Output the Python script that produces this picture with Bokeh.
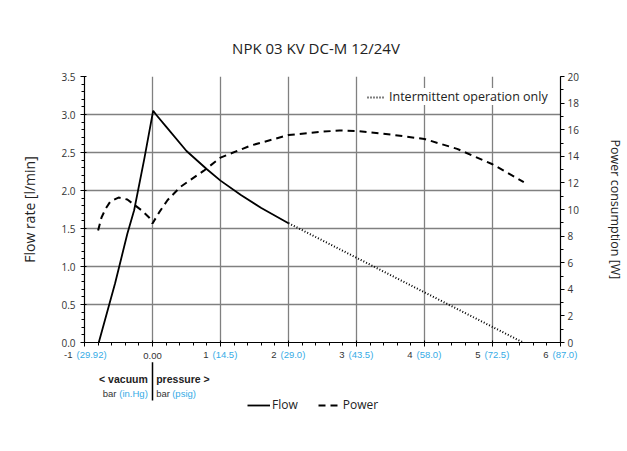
import numpy as np
from bokeh.plotting import figure
from bokeh.layouts import column, row
from bokeh.models import (Range1d, LinearAxis, FixedTicker, Legend,
                          LegendItem)
from bokeh.core.properties import value
from bokeh.embed import file_html
from bokeh.resources import INLINE

# ---------------- data ----------------
title_text = "NPK 03 KV DC-M 12/24V"
y_left_label = "Flow rate [l/min]"
y_right_label = "Power consumption [W]"

# Flow rate (l/min), continuous operation
flow_x = [-0.79, -0.55, -0.37, -0.27, -0.12, 0.01, 0.06, 0.20, 0.50, 0.80,
          1.00, 1.30, 1.60, 2.00]
flow_y = [0.00, 0.78, 1.43, 1.74, 2.42, 3.05, 2.99, 2.84, 2.52, 2.28,
          2.13, 1.94, 1.77, 1.57]
# Flow rate, intermittent operation only
int_x = [2.00, 5.45]
int_y = [1.57, 0.00]
# Power consumption (W)
pw_x = [-0.80, -0.75, -0.69, -0.62, -0.50, -0.37, -0.28, -0.15, -0.05, 0.00,
        0.10, 0.22, 0.41, 0.75, 1.00, 1.44, 2.00, 2.50, 2.75, 3.00, 3.50,
        4.00, 4.48, 5.00, 5.46]
pw_y = [8.42, 9.40, 10.05, 10.60, 10.90, 10.75, 10.40, 9.90, 9.40, 8.95,
        9.80, 10.70, 11.70, 12.90, 13.90, 14.80, 15.60, 15.85, 15.94, 15.90,
        15.64, 15.30, 14.56, 13.40, 12.05]

x_ticks = [-1, 0, 1, 2, 3, 4, 5, 6]
x_num = ["-1", "0.00", "1", "2", "3", "4", "5", "6"]
x_alt = ["(29.92)", "", "(14.5)", "(29.0)", "(43.5)", "(58.0)", "(72.5)", "(87.0)"]
y_ticks = [0.0, 0.5, 1.0, 1.5, 2.0, 2.5, 3.0, 3.5]
p_ticks = [0, 2, 4, 6, 8, 10, 12, 14, 16, 18, 20]

BLUE = "#35abe6"
TXT = "#222222"
TICKTXT = "#333333"
GRID = "#808080"

# layout (pixels)
W = 627
TOTAL_H = 451
TOP_H = 60                     # title strip
BL, FW, BR = 84, 476, 67
BT, FH, BB = 16, 266, 6
MAIN_H = BT + FH + BB
Y_MAIN0 = TOP_H + MAIN_H       # page y where lower strip starts
X0, X1 = -1, 6
PX_PER_X = FW / (X1 - X0)


def strip(height, xr, yr):
    f = figure(frame_width=W, frame_height=height, x_range=xr, y_range=yr,
               output_backend="svg", toolbar_location=None,
               x_axis_location=None, y_axis_location=None,
               min_border_left=0, min_border_right=0,
               min_border_top=0, min_border_bottom=0)
    f.grid.visible = False
    f.outline_line_color = None
    f.background_fill_color = "white"
    f.border_fill_color = "white"
    return f


# ---------------- title strip ----------------
s = strip(TOP_H, Range1d(0, W), Range1d(TOP_H, 0))
s.text(x=[315.5], y=[47], text=[title_text], text_align="center",
       text_baseline="middle", text_font=value("Open Sans"),
       text_font_size="15px", text_color=TXT)

# ---------------- main chart ----------------
p = figure(frame_width=FW, frame_height=FH,
           x_range=Range1d(X0, X1), y_range=Range1d(0, 3.5),
           output_backend="svg", toolbar_location=None,
           min_border_left=BL, min_border_right=BR,
           min_border_top=BT, min_border_bottom=BB)
p.extra_y_ranges = {"pw": Range1d(0, 20)}
p.background_fill_color = "white"
p.border_fill_color = "white"
p.outline_line_color = None

xa = p.xaxis[0]
xa.ticker = FixedTicker(ticks=x_ticks, minor_ticks=list(np.round(np.arange(-1, 6.01, 0.2), 2)))
xa.major_label_overrides = {tk: "" for tk in x_ticks}
xa.major_label_text_font_size = "1px"
xa.major_label_standoff = 0
xa.axis_line_color = "black"
xa.axis_line_width = 1.2
xa.major_tick_line_color = "black"
xa.minor_tick_line_color = "black"
xa.major_tick_in = 2
xa.major_tick_out = 4
xa.minor_tick_in = 0
xa.minor_tick_out = 3

ya = p.yaxis[0]
ya.ticker = FixedTicker(ticks=y_ticks, minor_ticks=list(np.round(np.arange(0, 3.51, 0.1), 2)))
ya.major_label_overrides = {tk: f"{tk:.1f}" for tk in y_ticks}
ya.major_label_text_font = "Open Sans"
ya.major_label_text_font_size = "10px"
ya.major_label_text_color = TICKTXT
ya.major_label_standoff = 5
ya.axis_label = y_left_label
ya.axis_label_standoff = 19
ya.axis_label_text_font = "Open Sans"
ya.axis_label_text_font_size = "14px"
ya.axis_label_text_font_style = "normal"
ya.axis_label_text_color = TXT
ya.axis_line_color = "black"
ya.axis_line_width = 1.2
ya.major_tick_line_color = "black"
ya.minor_tick_line_color = "black"
ya.major_tick_in = 2
ya.major_tick_out = 4
ya.minor_tick_in = 0
ya.minor_tick_out = 3

ra = LinearAxis(y_range_name="pw",
                ticker=FixedTicker(ticks=p_ticks, minor_ticks=list(range(0, 21))))
ra.major_label_text_font = "Open Sans"
ra.major_label_text_font_size = "10px"
ra.major_label_text_color = TICKTXT
ra.major_label_standoff = 3
ra.axis_label = y_right_label
ra.axis_label_standoff = 25
ra.axis_label_text_font = "Open Sans"
ra.axis_label_text_font_size = "12.5px"
ra.axis_label_text_font_style = "normal"
ra.axis_label_text_color = TXT
ra.axis_line_color = "black"
ra.axis_line_width = 1.2
ra.major_tick_line_color = "black"
ra.minor_tick_line_color = "black"
ra.major_tick_in = 0
ra.major_tick_out = 4
ra.minor_tick_in = 0
ra.minor_tick_out = 3
p.add_layout(ra, "right")

p.xgrid.ticker = FixedTicker(ticks=x_ticks)
p.ygrid.ticker = FixedTicker(ticks=y_ticks)
for g in (p.xgrid[0], p.ygrid[0]):
    g.grid_line_color = GRID
    g.grid_line_width = 1.3

r_pw = p.line(pw_x, pw_y, y_range_name="pw", line_color="black",
              line_width=2, line_dash="7 5")
r_flow = p.line(flow_x, flow_y, line_color="black", line_width=1.8)
r_int = p.line(int_x, int_y, line_color="black", line_width=2,
               line_dash="1 2")

leg_top = Legend(items=[LegendItem(label="Intermittent operation only", renderers=[r_int])],
                 location=(283, 237), margin=0, padding=8,
                 glyph_width=18, glyph_height=14, label_height=14,
                 label_standoff=4, background_fill_color="white",
                 background_fill_alpha=1.0, border_line_color=None,
                 label_text_font="Open Sans", label_text_font_size="12.5px",
                 label_text_color=TXT)
p.add_layout(leg_top)

# ---------------- lower strip ----------------
Q_H = TOTAL_H - Y_MAIN0
q = strip(Q_H, Range1d(X0 - BL / PX_PER_X, X1 + BR / PX_PER_X),
          Range1d(TOTAL_H, Y_MAIN0))

FONT_X = value("Liberation Sans")
ny, oy = 354, 355.5
num_x = [tk for tk, a in zip(x_ticks, x_alt) if a]
num_t = [n for n, a in zip(x_num, x_alt) if a]
alt_t = [a for a in x_alt if a]
q.text(x=num_x, y=[ny] * len(num_x), text=num_t, x_offset=-12,
       text_align="right", text_baseline="middle", text_font=FONT_X,
       text_font_size="9.5px", text_color=TICKTXT)
q.text(x=num_x, y=[ny] * len(num_x), text=alt_t, x_offset=-8,
       text_align="left", text_baseline="middle", text_font=FONT_X,
       text_font_size="9.5px", text_color=BLUE)
q.text(x=[0], y=[oy], text=[x_num[1]], text_align="center",
       text_baseline="middle", text_font=FONT_X, text_font_size="9.5px",
       text_color=TICKTXT)

q.text(x=[0], y=[378.3], text=["< vacuum"], x_offset=-4.7, text_align="right",
       text_baseline="middle", text_font=FONT_X, text_font_size="10.5px",
       text_font_style="bold", text_color=TXT)
q.text(x=[0], y=[378.3], text=["pressure >"], x_offset=3.7, text_align="left",
       text_baseline="middle", text_font=FONT_X, text_font_size="10.5px",
       text_font_style="bold", text_color=TXT)
q.text(x=[0], y=[393.3], text=["bar"], x_offset=-36, text_align="right",
       text_baseline="middle", text_font=FONT_X, text_font_size="9.5px",
       text_color=TICKTXT)
q.text(x=[0], y=[393.3], text=["(in.Hg)"], x_offset=-4.7, text_align="right",
       text_baseline="middle", text_font=FONT_X, text_font_size="9.5px",
       text_color=BLUE)
q.text(x=[0], y=[393.3], text=["bar"], x_offset=3.7, text_align="left",
       text_baseline="middle", text_font=FONT_X, text_font_size="9.5px",
       text_color=TICKTXT)
q.text(x=[0], y=[393.3], text=["(psig)"], x_offset=19.7, text_align="left",
       text_baseline="middle", text_font=FONT_X, text_font_size="9.5px",
       text_color=BLUE)
q.segment(x0=[0], y0=[361.7], x1=[0], y1=[400], line_color="black",
          line_width=1.5)

lf = q.line(x=[np.nan, np.nan], y=[np.nan, np.nan], line_color="black", line_width=1.8)
lp = q.line(x=[np.nan, np.nan], y=[np.nan, np.nan], line_color="black", line_width=2,
            line_dash="7 5")
leg_bot = Legend(items=[LegendItem(label="Flow", renderers=[lf]),
                        LegendItem(label="Power", renderers=[lp])],
                 location=(247, 38), orientation="horizontal",
                 margin=0, padding=0, glyph_width=23, glyph_height=14,
                 label_height=14, label_standoff=2, spacing=20,
                 border_line_color=None, background_fill_alpha=0,
                 label_text_font="Open Sans", label_text_font_size="12px",
                 label_text_color=TXT)
q.add_layout(leg_bot)

layout = column(row(s), row(p), row(q), spacing=0)
open("out.html", "w").write(file_html(layout, INLINE))
